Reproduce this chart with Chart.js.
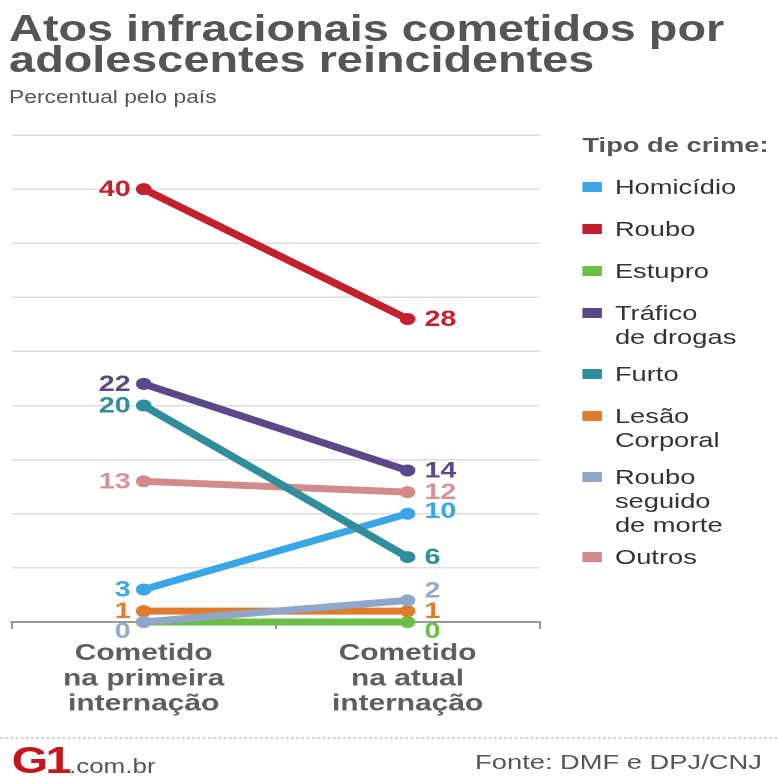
<!DOCTYPE html>
<html>
<head>
<meta charset="utf-8">
<script src="https://cdn.jsdelivr.net/npm/chart.js@4.4.0/dist/chart.umd.min.js"></script>
<style>
html, body { margin: 0; padding: 0; background: #fff; }
body { width: 777px; height: 776px; overflow: hidden; font-family: "Liberation Sans", Arial, sans-serif; position: relative; }
#wrap { position: absolute; left: 0; top: 0; width: 598px; height: 776px; transform: scaleX(1.3); transform-origin: 0 0; }
#titulo { position: absolute; left: 7px; top: 13px; font-weight: bold; font-size: 36px; line-height: 31px; color: #555; white-space: nowrap; }
#subtitulo { position: absolute; left: 7px; top: 87px; font-size: 17.5px; color: #555; white-space: nowrap; }
#grafico { position: absolute; left: 0; top: 125px; }
#legenda { position: absolute; left: 448px; top: 0; }
#legenda .tit { position: absolute; left: 0; top: 133px; font-weight: bold; font-size: 21px; color: #555; white-space: nowrap; }
#legenda .item { position: absolute; left: 0; white-space: nowrap; }
#legenda .sq { position: absolute; left: 0; width: 15px; height: 10px; }
#legenda .txt { position: absolute; left: 25px; top: -12px; font-size: 21px; line-height: 24px; color: #333; }
#linha { position: absolute; left: 0; top: 737px; width: 598px; border-top: 2px dotted #d0d0d0; }
#logo { position: absolute; left: 9px; top: 740px; white-space: nowrap; }
#logo b { font-size: 36px; color: #c4161c; letter-spacing: -2px; font-weight: 900; }
#logo span { font-size: 20px; color: #555; }
#fonte { position: absolute; right: 12px; top: 750px; font-size: 21px; color: #555; white-space: nowrap; }
</style>
</head>
<body>
<div id="wrap">
  <div id="titulo">Atos infracionais cometidos por<br>adolescentes reincidentes</div>
  <div id="subtitulo">Percentual pelo país</div>
  <canvas id="grafico" width="425" height="597"></canvas>
  <div id="legenda"><div class="tit">Tipo de crime:</div></div>
  <div id="linha"></div>
  <div id="logo"><b>G1</b><span>.com.br</span></div>
  <div id="fonte">Fonte: DMF e DPJ/CNJ</div>
</div>
<script>
// dados
const periodos = [['Cometido', 'na primeira', 'internação'], ['Cometido', 'na atual', 'internação']];
const crimes = ['Homicídio', 'Roubo', 'Estupro', 'Tráfico\nde drogas', 'Furto', 'Lesão\nCorporal', 'Roubo\nseguido\nde morte', 'Outros'];
const primeiraInternacao = [3, 40, 0, 22, 20, 1, 0, 13];
const atualInternacao = [10, 28, 0, 14, 6, 1, 2, 12];
const escalaMax = 45;
const escalaPasso = 5;

const cores = ['#3ba6e6', '#c41f2e', '#6bbf45', '#5a4888', '#2f8d9c', '#e07a2c', '#8ea7cb', '#d28b8b'];
const coresRotulo = ['#3ba6e6', '#c41f2e', '#6bbf45', '#5a4888', '#2f8d9c', '#e07a2c', '#93a9c9', '#d49494'];
// deslocamento vertical do rotulo [esquerda, direita]; null = sem rotulo
const ajusteRotulo = [[0, -3], [0, 0], [null, 9], [0, 0], [0, 0], [0, 0], [9, -10], [0, 0]];
// ordem de desenho (menor = por cima)
const ordem = [5, 3, 8, 2, 1, 7, 6, 4];

const rotulos = {
    id: 'rotulos',
    afterDatasetsDraw(chart) {
        const ctx = chart.ctx;
        ctx.save();
        ctx.font = 'bold 22px "Liberation Sans", Arial, sans-serif';
        ctx.textBaseline = 'middle';
        chart.data.datasets.forEach(function (ds, i) {
            chart.getDatasetMeta(i).data.forEach(function (pt, j) {
                const dy = ajusteRotulo[i][j];
                if (dy === null) return;
                ctx.fillStyle = coresRotulo[i];
                ctx.textAlign = j === 0 ? 'right' : 'left';
                ctx.fillText(String(ds.data[j]), pt.x + (j === 0 ? -10 : 13), pt.y + dy + 1);
            });
        });
        ctx.restore();
    }
};

const datasets = crimes.map(function (nome, i) {
    return {
        label: nome,
        data: [primeiraInternacao[i], atualInternacao[i]],
        borderColor: cores[i],
        backgroundColor: cores[i],
        pointBackgroundColor: cores[i],
        borderWidth: 7,
        pointRadius: 6,
        pointHoverRadius: 6,
        pointBorderWidth: 0,
        tension: 0,
        clip: false,
        order: ordem[i]
    };
});

new Chart(document.getElementById('grafico').getContext('2d'), {
    type: 'line',
    data: { labels: periodos, datasets: datasets },
    options: {
        responsive: false,
        animation: false,
        devicePixelRatio: 2,
        layout: { padding: { top: 10, left: 9, right: 10, bottom: 0 } },
        plugins: { legend: { display: false }, tooltip: { enabled: false } },
        scales: {
            y: {
                min: 0, max: escalaMax,
                ticks: { stepSize: escalaPasso, display: false },
                grid: { color: '#dedede', lineWidth: 1.5, drawTicks: false },
                border: { display: false },
                afterFit: function (s) { s.width = 0; }
            },
            x: {
                offset: true,
                grid: { offset: true, drawOnChartArea: false, drawTicks: true, tickLength: 7, color: '#999', lineWidth: 1.5 },
                border: { color: '#999', width: 2 },
                ticks: { color: '#5e5e5e', maxRotation: 0, padding: 12, font: { family: '"Liberation Sans", Arial, sans-serif', size: 23, weight: 'bold', lineHeight: 1.1 } },
                afterFit: function (s) { s.height = 100; }
            }
        }
    },
    plugins: [rotulos]
});

// legenda montada a partir das listas
const legenda = document.getElementById('legenda');
let topo = 187;
crimes.forEach(function (nome, i) {
    const linhas = nome.split('\n');
    const item = document.createElement('div');
    item.className = 'item';
    item.style.top = topo + 'px';
    item.innerHTML = '<div class="sq" style="top:-5px;background:' + cores[i] + '"></div><div class="txt">' + linhas.join('<br>') + '</div>';
    legenda.appendChild(item);
    topo += 42 + 19 * (linhas.length - 1);
});
</script>
</body>
</html>
